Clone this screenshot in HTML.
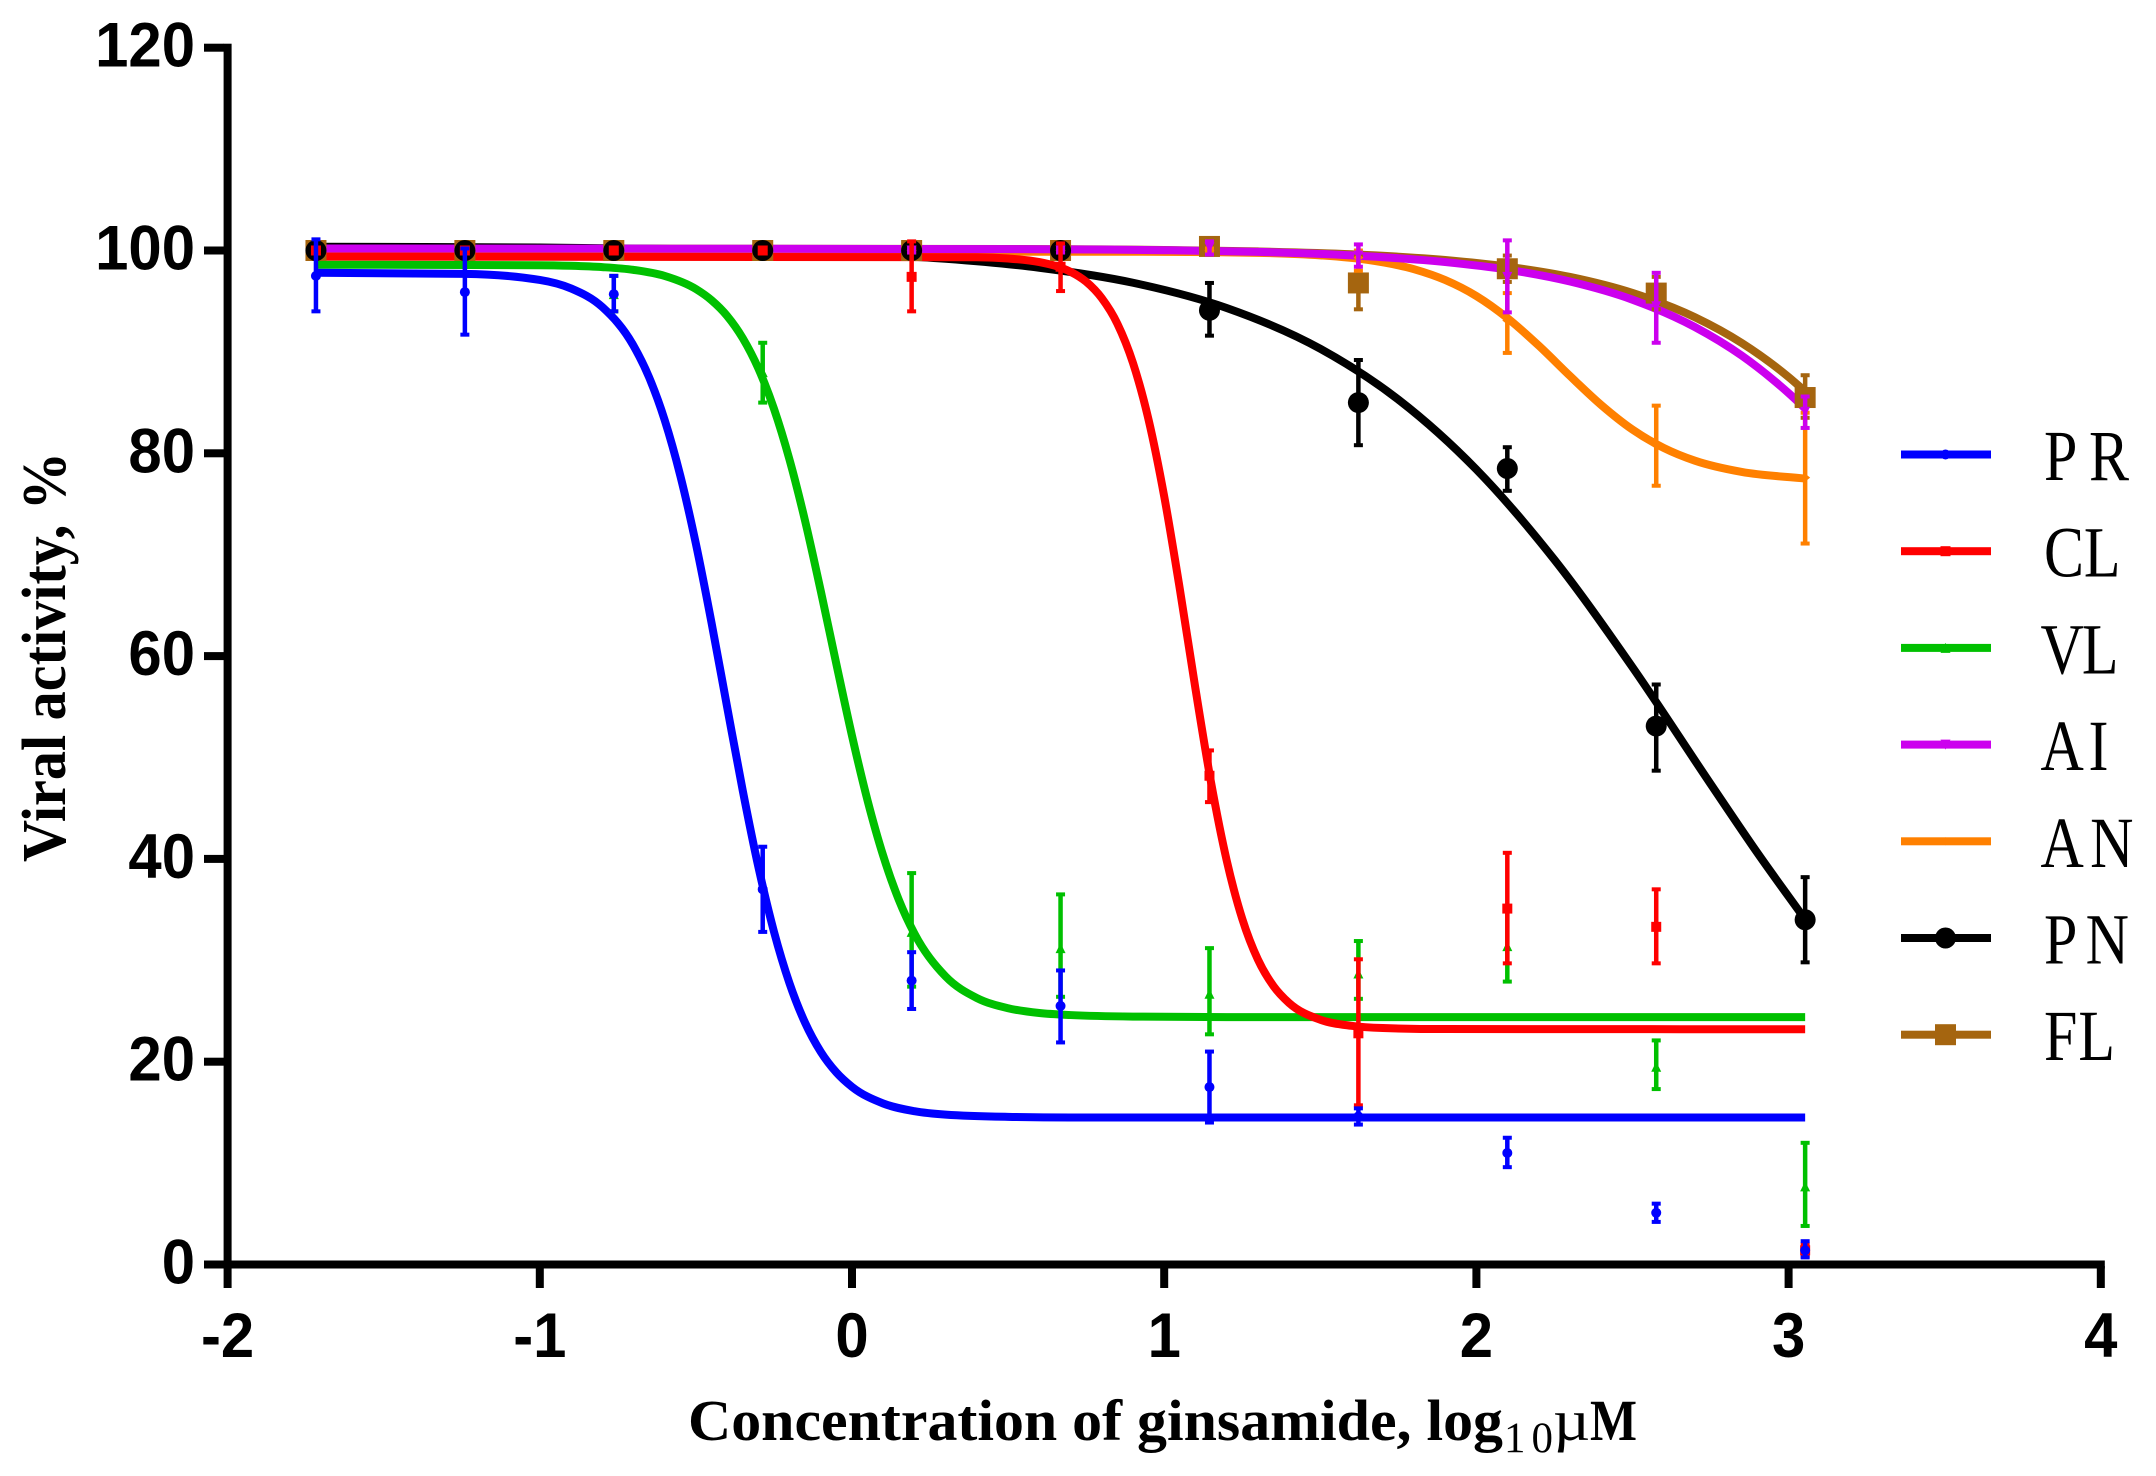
<!DOCTYPE html>
<html lang="en">
<head>
<meta charset="utf-8">
<title>Viral activity vs concentration of ginsamide</title>
<style>
html,body{margin:0;padding:0;background:#fff;}
svg{display:block;}
</style>
</head>
<body>
<svg id="chart" xmlns="http://www.w3.org/2000/svg" width="2156" height="1476" viewBox="0 0 2156 1476">
  <rect x="0" y="0" width="2156" height="1476" fill="#ffffff"/>
  <g id="curve-layer"></g>
  <g id="series-layer"></g>
  <g id="axis-layer"></g>
  <g id="legend-layer"></g>
  <text transform="translate(65,862) rotate(-90)" font-family="'Liberation Serif',serif" font-weight="700" font-size="62" textLength="410" lengthAdjust="spacingAndGlyphs" fill="#000">Viral activity, %</text>
  <g fill="#000" font-family="'Liberation Serif',serif">
    <text x="688" y="1440" font-weight="700" font-size="58" textLength="815" lengthAdjust="spacingAndGlyphs">Concentration of ginsamide, log</text>
    <text x="1504" y="1452" font-size="43" textLength="49" lengthAdjust="spacing">10</text>
    <text x="1553" y="1440" font-size="58" textLength="37" lengthAdjust="spacingAndGlyphs">µ</text>
    <text x="1590" y="1440" font-weight="700" font-size="58" textLength="47" lengthAdjust="spacingAndGlyphs">M</text>
  </g>
</svg>
<script>
// ---------- data ----------
var logConc = [-1.717,-1.240,-0.763,-0.286,0.191,0.668,1.145,1.622,2.099,2.576,3.053];

var xTickLabels = [-2,-1,0,1,2,3,4];
var yTickLabels = [0,20,40,60,80,100,120];

var legendLabels = ['PR','CL','VL','AI','AN','PN','FL'];

var prMean = [97.5,95.9,95.7,37.0,28.0,25.5,17.5,14.6,11.0,5.1,1.4];
var prHigh = [101.1,100.2,97.5,41.2,30.8,29.0,21.0,15.4,12.5,6.0,2.3];
var prLow  = [94.0,91.7,94.0,32.8,25.2,21.9,14.0,13.8,9.6,4.2,0.7];
var prCurveX = [-1.717,-1.24,-1.0,-0.9,-0.8,-0.7,-0.65,-0.6,-0.55,-0.5,-0.45,-0.4,-0.35,-0.3,-0.25,-0.2,-0.15,-0.1,-0.05,0,0.1,0.2,0.3,0.5,0.7,3.053];
var prCurveY = [97.8,97.7,97.1,96.26,94.43,90.62,87.5,83.28,77.8,71.07,63.3,54.98,46.75,39.23,32.83,27.72,23.82,20.97,18.94,17.52,15.88,15.12,14.78,14.56,14.5,14.5];

var clMean = [100,100,100,100,97.4,98.4,48.2,22.8,35.1,33.3,1.4];
var clHigh = [100.2,100.2,100.2,100.2,100.9,100.7,50.7,30.1,40.6,37.0,2.0];
var clLow  = [99.8,99.8,99.8,99.8,94.0,96.0,45.6,15.7,29.7,29.7,0.8];
var clCurveX = [-1.717,0.4,0.5,0.6,0.65,0.7,0.75,0.8,0.85,0.9,0.95,1.0,1.05,1.1,1.15,1.2,1.25,1.3,1.35,1.4,1.5,1.6,1.7,1.9,3.053];
var clCurveY = [99.4,99.33,99.21,98.86,98.5,97.9,96.92,95.3,92.78,88.91,83.3,75.75,66.62,56.8,47.55,39.87,34.09,30.08,27.46,25.79,24.14,23.54,23.32,23.22,23.2];

var vlMean = [100,100,95.7,88.0,32.8,31.2,26.7,28.7,31.4,19.5,7.7];
var vlHigh = [100.2,100.2,97.5,90.9,38.6,36.5,31.2,31.9,34.9,22.1,12.0];
var vlLow  = [99.8,99.8,94.0,85.0,27.4,26.4,22.7,26.2,27.9,17.3,3.8];
var vlCurveX = [-1.717,-1.0,-0.9,-0.8,-0.7,-0.6,-0.5,-0.45,-0.4,-0.35,-0.3,-0.25,-0.2,-0.15,-0.1,-0.05,0,0.05,0.1,0.15,0.2,0.3,0.4,0.5,0.6,0.7,0.9,1.2,3.053];
var vlCurveY = [98.6,98.55,98.49,98.36,98.09,97.49,96.2,95.1,93.55,91.36,88.37,84.4,79.36,73.3,66.42,59.2,52.14,45.74,40.31,35.96,32.63,28.4,26.28,25.27,24.8,24.6,24.45,24.4,24.4];

var aiMean = [100,100,100,100,100,100,100.3,99.5,97.4,94.5,84.1];
var aiHigh = [100.2,100.2,100.2,100.2,100.2,100.2,100.9,100.6,101.0,97.8,85.6];
var aiLow  = [99.8,99.8,99.8,99.8,99.8,99.8,99.6,98.4,93.9,90.9,82.5];
var aiCurveX = [-1.717,0.5,1.0,1.3,1.6,1.9,2.1,2.3,2.5,2.7,2.85,3.0,3.053];
var aiCurveY = [100.2,100.14,100.03,99.86,99.52,98.86,98.11,96.94,95.15,92.45,89.63,85.93,84.42];

var anMean = [100,100,100,100,100,100,100,99.3,93.1,80.8,77.6];
var anHigh = [100.2,100.2,100.2,100.2,100.2,100.2,100.2,100,95.8,84.7,84.0];
var anLow  = [99.8,99.8,99.8,99.8,99.8,99.8,99.8,98.0,89.9,76.8,71.1];
var anCurveX = [-1.717,1.0,1.3,1.5,1.65,1.8,1.9,2.0,2.1,2.2,2.3,2.4,2.5,2.6,2.7,2.85,3.053];
var anCurveY = [99.9,99.87,99.77,99.52,99.08,98.16,97.09,95.51,93.32,90.61,87.62,84.76,82.34,80.53,79.27,78.16,77.51];

var pnMean = [100,100,100,100,100,100,94.1,85.0,78.5,53.1,34.0];
var pnHigh = [100.2,100.2,100.2,100.2,100.2,100.2,96.8,89.2,80.6,57.2,38.2];
var pnLow  = [99.8,99.8,99.8,99.8,99.8,99.8,91.6,80.8,76.3,48.7,29.8];
var pnCurveX = [-1.717,-1.0,-0.5,0,0.3,0.6,0.9,1.2,1.5,1.75,2.0,2.25,2.5,2.75,2.9,3.053];
var pnCurveY = [100.37,100.29,100.12,99.7,99.18,98.3,96.82,94.33,90.31,85.3,78.4,69.5,58.9,47.4,40.6,34.03];

var flMean = [100,100,100,100,100,100,100.4,96.8,98.2,95.8,85.5];
var flHigh = [100.2,100.2,100.2,100.2,100.2,100.2,100.7,99.4,99.5,97.4,87.7];
var flLow  = [99.8,99.8,99.8,99.8,99.8,99.8,100.1,94.2,96.9,94.2,83.5];
var flCurveX = [-1.717,0.5,1.0,1.3,1.6,1.9,2.1,2.3,2.5,2.7,2.85,3.0,3.053];
var flCurveY = [100.2,100.15,100.05,99.91,99.63,99.06,98.4,97.39,95.81,93.42,90.88,87.52,86.11];

// ---------- axis functions ----------
function xScale(v){ return 852 + 312.2 * v; }
function yScale(v){ return 1264.5 - 10.14 * v; }

var NS = 'http://www.w3.org/2000/svg';
function make(tag, parent){
  var el = document.createElementNS(NS, tag);
  parent.appendChild(el);
  return el;
}
function curvePath(xs, ys){
  var n = xs.length, px = [], py = [], s = [], m = [], i;
  for(i = 0; i < n; i++){ px.push(xScale(xs[i])); py.push(yScale(ys[i])); }
  for(i = 0; i < n - 1; i++){ s.push((py[i+1] - py[i]) / (px[i+1] - px[i])); }
  m[0] = s[0];
  for(i = 1; i < n - 1; i++){
    var h0 = px[i] - px[i-1], h1 = px[i+1] - px[i];
    var p = (s[i-1] * h1 + s[i] * h0) / (h0 + h1);
    m[i] = ((s[i-1] > 0 ? 1 : -1) + (s[i] > 0 ? 1 : -1)) * Math.min(Math.abs(s[i-1]), Math.abs(s[i]), 0.5 * Math.abs(p));
  }
  m[n-1] = s[n-2];
  var d = 'M' + px[0].toFixed(2) + ' ' + py[0].toFixed(2);
  for(i = 0; i < n - 1; i++){
    var dx = (px[i+1] - px[i]) / 3;
    d += 'C' + (px[i] + dx).toFixed(2) + ' ' + (py[i] + m[i] * dx).toFixed(2) + ' ' +
         (px[i+1] - dx).toFixed(2) + ' ' + (py[i+1] - m[i+1] * dx).toFixed(2) + ' ' +
         px[i+1].toFixed(2) + ' ' + py[i+1].toFixed(2);
  }
  return d;
}
function drawMarker(parent, kind, cx, cy, color){
  var el;
  if(kind === 'dot' || kind === 'bigdot'){
    el = make('circle', parent);
    el.setAttribute('cx', cx);
    el.setAttribute('cy', cy);
    el.setAttribute('r', kind === 'dot' ? 5 : 10.5);
  } else if(kind === 'square' || kind === 'bigsquare'){
    var w = kind === 'square' ? 10 : 21;
    el = make('rect', parent);
    el.setAttribute('x', cx - w / 2);
    el.setAttribute('y', cy - w / 2);
    el.setAttribute('width', w);
    el.setAttribute('height', w);
  } else {
    var pts;
    if(kind === 'up'){ pts = [[0,-5],[5,5],[-5,5]]; }
    else if(kind === 'down'){ pts = [[-5,-5],[5,-5],[0,5]]; }
    else { pts = [[-5,0],[0,-4],[5,0],[0,4]]; }
    el = make('polygon', parent);
    el.setAttribute('points', pts.map(function(q){ return (cx + q[0]) + ',' + (cy + q[1]); }).join(' '));
  }
  el.setAttribute('fill', color);
  
  
  return el;
}

// series in legend order; painted back to front so PR ends up on top
var seriesList = [
  {key:'pr', color:'#0000ff', marker:'dot',       mean:prMean, high:prHigh, low:prLow, cx:prCurveX, cy:prCurveY},
  {key:'cl', color:'#ff0000', marker:'square',    mean:clMean, high:clHigh, low:clLow, cx:clCurveX, cy:clCurveY},
  {key:'vl', color:'#00c000', marker:'up',        mean:vlMean, high:vlHigh, low:vlLow, cx:vlCurveX, cy:vlCurveY},
  {key:'ai', color:'#cc00ee', marker:'down',      mean:aiMean, high:aiHigh, low:aiLow, cx:aiCurveX, cy:aiCurveY},
  {key:'an', color:'#ff8000', marker:'diamond',   mean:anMean, high:anHigh, low:anLow, cx:anCurveX, cy:anCurveY},
  {key:'pn', color:'#000000', marker:'bigdot',    mean:pnMean, high:pnHigh, low:pnLow, cx:pnCurveX, cy:pnCurveY},
  {key:'fl', color:'#a5650f', marker:'bigsquare', mean:flMean, high:flHigh, low:flLow, cx:flCurveX, cy:flCurveY}
];

// ---------- curves first, then error bars and markers above every curve ----------
var curveLayer = document.getElementById('curve-layer');
var seriesLayer = document.getElementById('series-layer');
seriesList.slice().reverse().forEach(function(s){
  var line = make('path', curveLayer);
  
  
  line.setAttribute('d', curvePath(s.cx, s.cy));
  line.setAttribute('fill', 'none');
  line.setAttribute('stroke', s.color);
  line.setAttribute('stroke-width', '8');

  var g = make('g', seriesLayer);
  
  
  logConc.forEach(function(c, i){
    var x = xScale(c), top = yScale(s.high[i]), bot = yScale(s.low[i]);
    var stem = make('rect', g);
    
    
    stem.setAttribute('x', x - 2.25);
    stem.setAttribute('y', top);
    stem.setAttribute('width', 4.5);
    stem.setAttribute('height', Math.max(bot - top, 0));
    stem.setAttribute('fill', s.color);
    [top, bot].forEach(function(yy){
      var cap = make('rect', g);
      
      
      cap.setAttribute('x', x - 4.5);
      cap.setAttribute('y', yy - 2);
      cap.setAttribute('width', 9);
      cap.setAttribute('height', 4);
      cap.setAttribute('fill', s.color);
    });
    drawMarker(g, s.marker, x, yScale(s.mean[i]), s.color);
  });
});

// ---------- axes ----------
var axisLayer = document.getElementById('axis-layer');
var yLine = make('rect', axisLayer);


yLine.setAttribute('x', xScale(-2) - 4);
yLine.setAttribute('y', yScale(120) - 4);
yLine.setAttribute('width', 8);
yLine.setAttribute('height', yScale(0) - yScale(120) + 8);
yLine.setAttribute('fill', '#000');

var xLine = make('rect', axisLayer);


xLine.setAttribute('x', xScale(-2) - 4);
xLine.setAttribute('y', yScale(0) - 4);
xLine.setAttribute('width', xScale(4) - xScale(-2) + 8);
xLine.setAttribute('height', 8);
xLine.setAttribute('fill', '#000');

yTickLabels.forEach(function(v){
  var y = yScale(v);
  var tick = make('rect', axisLayer);
  
  
  tick.setAttribute('x', 204);
  tick.setAttribute('y', y - 4);
  tick.setAttribute('width', 20);
  tick.setAttribute('height', 8);
  tick.setAttribute('fill', '#000');
  var t = make('text', axisLayer);
  
  
  t.setAttribute('transform', 'translate(195,' + (y + 19) + ') scale(0.95,1)');
  t.setAttribute('text-anchor', 'end');
  t.setAttribute('font-family', "'Liberation Sans',sans-serif");
  t.setAttribute('font-weight', '700');
  t.setAttribute('font-size', '63');
  t.textContent = String(v);
});
xTickLabels.forEach(function(v){
  var x = xScale(v);
  var tick = make('rect', axisLayer);
  
  
  tick.setAttribute('x', x - 4);
  tick.setAttribute('y', 1266);
  tick.setAttribute('width', 8);
  tick.setAttribute('height', 22);
  tick.setAttribute('fill', '#000');
  var t = make('text', axisLayer);
  
  
  t.setAttribute('transform', 'translate(' + x + ',1357) scale(0.95,1)');
  t.setAttribute('text-anchor', 'middle');
  t.setAttribute('font-family', "'Liberation Sans',sans-serif");
  t.setAttribute('font-weight', '700');
  t.setAttribute('font-size', '63');
  t.textContent = String(v);
});

// ---------- legend ----------
var legendLabelWidth = {PR:85, CL:76.5, VL:78, AI:68, AN:93, PN:85, FL:71};
var legendLayer = document.getElementById('legend-layer');
legendLabels.forEach(function(label, i){
  var s = seriesList[i];
  var rowY = 454.5 + i * 96.7;
  var row = make('g', legendLayer);
  
  
  var swatch = make('rect', row);
  
  
  swatch.setAttribute('x', 1901);
  swatch.setAttribute('y', rowY - 4);
  swatch.setAttribute('width', 90);
  swatch.setAttribute('height', 8);
  swatch.setAttribute('fill', s.color);
  drawMarker(row, s.marker, 1945.5, rowY, s.color);
  var t = make('text', row);
  
  
  var lx = /^[AV]/.test(label) ? 2040.5 : 2044;
  t.setAttribute('transform', 'translate(' + lx + ',' + (rowY + 25.5) + ') scale(1,1.2)');
  t.setAttribute('font-family', "'Liberation Serif',serif");
  t.setAttribute('font-size', '60');
  t.setAttribute('textLength', legendLabelWidth[label]);
  t.setAttribute('lengthAdjust', 'spacing');
  t.textContent = label;
});
</script>
</body>
</html>
